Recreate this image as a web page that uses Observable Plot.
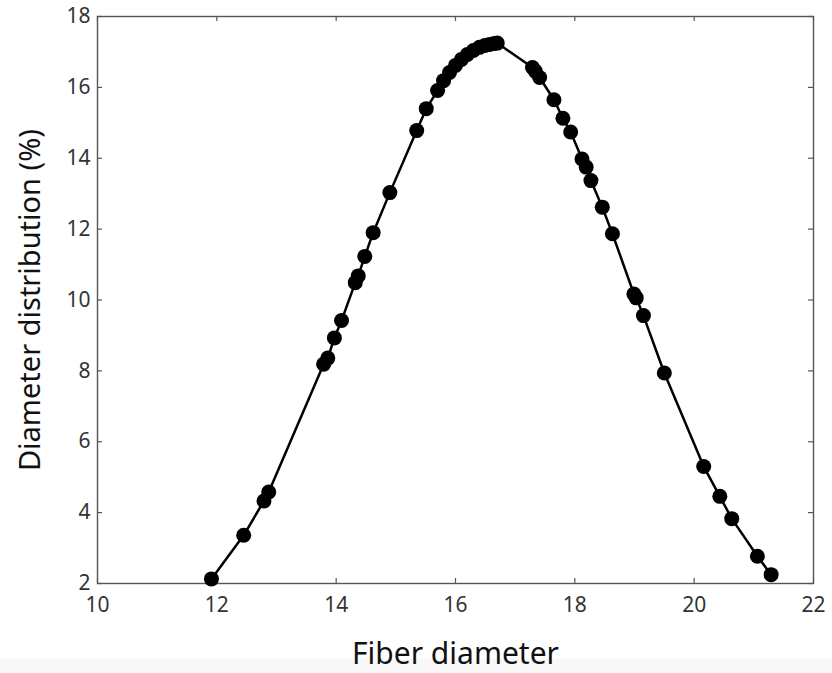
<!DOCTYPE html>
<html>
<head>
<meta charset="utf-8">
<script src="https://cdn.jsdelivr.net/npm/d3@7"></script>
<script src="https://cdn.jsdelivr.net/npm/@observablehq/plot@0.6"></script>
<style>
  html, body { margin: 0; padding: 0; background: #fff; }
  #chart { width: 832px; height: 673px; background: linear-gradient(#fff 0, #fff 659px, #f8f8f8 659px); }
  svg { display: block; }
</style>
</head>
<body>
<div id="chart"></div>
<script>
const fiberDiameter = [11.91, 12.45, 12.79, 12.87, 13.79, 13.86, 13.97, 14.09, 14.32, 14.37, 14.48, 14.62, 14.90, 15.35, 15.51, 15.70, 15.80, 15.90, 16.00, 16.10, 16.20, 16.30, 16.40, 16.49, 16.57, 16.65, 16.70, 17.29, 17.34, 17.41, 17.65, 17.80, 17.93, 18.12, 18.19, 18.27, 18.46, 18.63, 18.99, 19.03, 19.15, 19.50, 20.16, 20.43, 20.63, 21.06, 21.29];
const distribution = [2.13, 3.36, 4.33, 4.58, 8.19, 8.36, 8.93, 9.42, 10.49, 10.68, 11.23, 11.90, 13.03, 14.78, 15.40, 15.91, 16.19, 16.42, 16.62, 16.79, 16.93, 17.04, 17.13, 17.18, 17.21, 17.24, 17.25, 16.56, 16.45, 16.28, 15.65, 15.13, 14.74, 13.98, 13.75, 13.37, 12.62, 11.87, 10.17, 10.06, 9.56, 7.94, 5.30, 4.46, 3.83, 2.77, 2.25];
const xTicks = [10, 12, 14, 16, 18, 20, 22];
const yTicks = [2, 4, 6, 8, 10, 12, 14, 16, 18];
const xLabel = "Fiber diameter";
const yLabel = "Diameter distribution (%)";

const data = fiberDiameter.map((x, i) => ({x, y: distribution[i]}));
const font = "'Noto Sans', 'Open Sans', sans-serif";
const tickColor = "#555";

const W = 832, H = 673, mL = 97, mR = 19, mT = 16, mB = 90;
const plotW = W - mL - mR, plotH = H - mT - mB, tickLen = 5;

const chart = Plot.plot({
  width: W,
  height: H,
  marginLeft: mL,
  marginRight: mR,
  marginTop: mT,
  marginBottom: mB,
  style: {fontFamily: font, fontSize: "21px", background: "transparent"},
  x: {domain: [10, 22]},
  y: {domain: [2, 18]},
  marks: [
    Plot.axisX(xTicks, {anchor: "bottom", tickSize: 0, tickPadding: 14, fontSize: 21, color: "#333", label: null}),
    Plot.axisY(yTicks, {anchor: "left", tickSize: 0, tickPadding: 7, fontSize: 21, color: "#333", label: null}),
    // inward ticks on all four sides
    Plot.ruleX(xTicks, {x: d => d, insetTop: plotH - tickLen, stroke: tickColor, strokeWidth: 1.2}),
    Plot.ruleX(xTicks, {x: d => d, insetBottom: plotH - tickLen, stroke: tickColor, strokeWidth: 1.2}),
    Plot.ruleY(yTicks, {y: d => d, insetRight: plotW - tickLen, stroke: tickColor, strokeWidth: 1.2}),
    Plot.ruleY(yTicks, {y: d => d, insetLeft: plotW - tickLen, stroke: tickColor, strokeWidth: 1.2}),
    Plot.frame({stroke: "#555", strokeWidth: 1.4}),
    Plot.line(data, {x: "x", y: "y", stroke: "#000", strokeWidth: 2.5}),
    Plot.dot(data, {x: "x", y: "y", r: 7.5, fill: "#000", stroke: "none"}),
    Plot.text([xLabel], {frameAnchor: "bottom", dy: 80, lineAnchor: "bottom", textAnchor: "middle", fontSize: 30, fill: "#111", text: d => d}),
    Plot.text([yLabel], {frameAnchor: "left", dx: -67, rotate: -90, lineAnchor: "middle", textAnchor: "middle", fontSize: 29, fill: "#111", text: d => d})
  ]
});
document.getElementById("chart").appendChild(chart);
</script>
</body>
</html>
